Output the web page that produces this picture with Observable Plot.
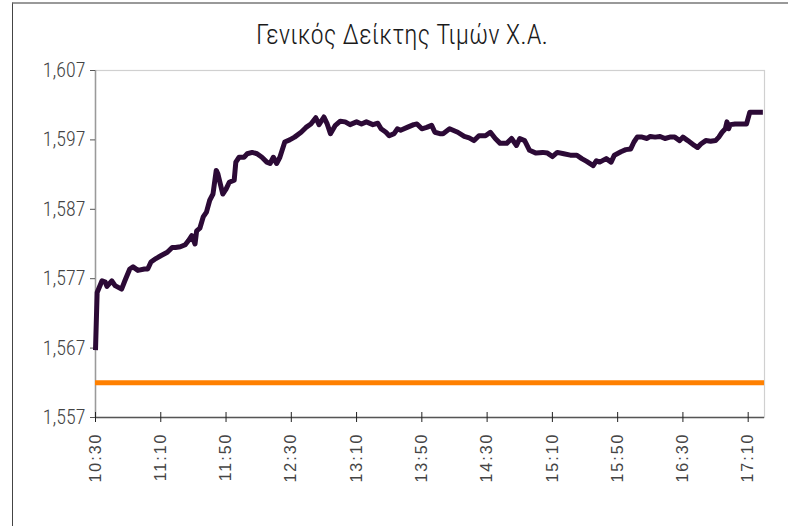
<!DOCTYPE html>
<html>
<head>
<meta charset="utf-8">
<script src="https://cdn.jsdelivr.net/npm/d3@7"></script>
<script src="https://cdn.jsdelivr.net/npm/@observablehq/plot@0.6"></script>
<style>
  html, body { margin: 0; padding: 0; background: #fff; }
  #wrap { position: relative; width: 788px; height: 526px; overflow: hidden; background: #fff; }
  #border { position: absolute; left: 12px; top: 2px; width: 900px; height: 700px;
            border-left: 1.5px solid #444; border-top: 2px solid #999; }
  #title { position: absolute; left: 0; top: 0; width: 804px; height: 56px; text-align: center;
           font-family: "Liberation Sans Narrow", "Roboto Condensed", "Liberation Sans", sans-serif;
           font-size: 27px; line-height: 70px; color: #1a1a1a; font-weight: 300; }
  #chart { position: absolute; left: 0; top: 56px; }
</style>
</head>
<body>
<div id="wrap">
  <div id="border"></div>
  <div id="title">Γενικός Δείκτης Τιμών Χ.Α.</div>
  <div id="chart"></div>
</div>
<script>
const chartTitle = "Γενικός Δείκτης Τιμών Χ.Α.";

const times = [
  "10:30","10:31","10:34","10:36","10:37","10:40","10:42","10:46","10:48","10:51",
  "10:53","10:56","11:00","11:02","11:04","11:07","11:10","11:14","11:17","11:19",
  "11:22","11:25","11:27","11:29","11:31","11:32","11:34","11:36","11:38","11:40",
  "11:42","11:44","11:45","11:48","11:50","11:52","11:55","11:56","11:58","12:01",
  "12:03","12:06","12:09","12:12","12:15","12:17","12:19","12:21","12:23","12:26",
  "12:29","12:32","12:36","12:39","12:42","12:45","12:47","12:50","12:52","12:54",
  "12:57","13:00","13:03","13:06","13:10","13:13","13:16","13:20","13:23","13:25",
  "13:28","13:30","13:33","13:35","13:37","13:41","13:45","13:47","13:50","13:53",
  "13:56","13:58","14:01","14:03","14:07","14:12","14:16","14:19","14:22","14:25",
  "14:29","14:32","14:35","14:38","14:42","14:45","14:48","14:50","14:53","14:56",
  "15:00","15:04","15:07","15:10","15:13","15:17","15:21","15:25","15:28","15:31",
  "15:35","15:37","15:39","15:43","15:46","15:48","15:52","15:55","15:58","16:00",
  "16:02","16:05","16:08","16:10","16:13","16:16","16:19","16:22","16:25","16:28",
  "16:30","16:33","16:37","16:39","16:41","16:44","16:47","16:50","16:52","16:54",
  "16:56","16:57","16:58","16:59","17:02","17:09","17:11","17:19"
];
const values = [
  1566.7,1575.0,1576.7,1576.5,1575.9,1576.7,1576.0,1575.5,1576.7,1578.4,
  1578.7,1578.2,1578.4,1578.4,1579.4,1579.9,1580.3,1580.8,1581.5,1581.5,
  1581.6,1581.9,1582.5,1583.2,1582.0,1583.9,1584.3,1585.9,1586.6,1588.3,
  1589.2,1592.6,1592.1,1589.2,1589.9,1590.9,1591.2,1593.8,1594.5,1594.5,
  1595.0,1595.2,1595.0,1594.5,1593.8,1593.6,1594.5,1593.6,1594.5,1596.7,
  1597.0,1597.4,1598.1,1598.8,1599.3,1600.2,1599.2,1600.3,1599.3,1597.9,
  1599.1,1599.7,1599.6,1599.2,1599.6,1599.3,1599.6,1599.2,1599.4,1598.6,
  1598.1,1597.6,1597.9,1598.6,1598.4,1598.8,1599.2,1599.3,1598.6,1598.8,
  1599.1,1598.1,1597.9,1597.9,1598.6,1598.1,1597.5,1597.3,1596.9,1597.6,
  1597.6,1598.1,1597.2,1596.5,1596.5,1597.2,1596.2,1597.2,1596.9,1595.5,
  1595.1,1595.2,1595.1,1594.6,1595.2,1595.0,1594.8,1594.8,1594.3,1593.9,
  1593.3,1594.0,1593.8,1594.3,1593.8,1594.8,1595.3,1595.6,1595.7,1596.7,
  1597.4,1597.4,1597.2,1597.5,1597.4,1597.5,1597.2,1597.4,1597.4,1596.9,
  1597.4,1596.9,1596.2,1595.9,1596.4,1596.9,1596.8,1596.9,1597.4,1598.1,
  1598.6,1599.6,1598.6,1599.2,1599.3,1599.3,1601.0,1601.0
];
const referenceLevel = 1562;
const yTicks = [1557, 1567, 1577, 1587, 1597, 1607];
const xTickLabels = ["10:30","11:10","11:50","12:30","13:10","13:50","14:30","15:10","15:50","16:30","17:10"];
const xDomainLabels = ["10:30", "17:20"];

const parse = d3.timeParse("%H:%M");
const data = times.map((t, i) => ({time: parse(t), value: values[i]}));
const xTicks = xTickLabels.map(parse);
const xDomain = xDomainLabels.map(parse);
const yDomain = [yTicks[0], yTicks[yTicks.length - 1]];

const plot = Plot.plot({
  width: 788,
  height: 470,
  marginLeft: 95,
  marginRight: 24,
  marginTop: 14,
  marginBottom: 109,
  style: {background: "transparent", overflow: "visible"},
  x: {type: "time", domain: xDomain},
  y: {domain: yDomain},
  marks: [
    Plot.frame({stroke: "#d0d0d0", strokeWidth: 1.2}),
    Plot.ruleX([xDomain[0]], {stroke: "#9a9a9a", strokeWidth: 1.5}),
    Plot.ruleY([yDomain[0]], {stroke: "#555", strokeWidth: 1.5}),
    Plot.axisY({ticks: yTicks, tickFormat: d3.format(","), tickSize: 5, tickPadding: 5,
      stroke: "#555", fill: "#444", fontSize: 20, fontWeight: 300,
      fontFamily: "'Liberation Sans Narrow', 'Roboto Condensed', 'Liberation Sans', sans-serif",
      label: null}),
    Plot.axisX({ticks: xTicks, tickFormat: d3.timeFormat("%H:%M"), tickSize: 5, tickPadding: 10,
      tickRotate: -90, stroke: "#222", fill: "#444", fontSize: 16, label: null,
      fontFamily: "'Liberation Sans', Arial, sans-serif"}),
    Plot.axisX({ticks: xTicks, tickSize: 5, text: null, dy: -5, stroke: "#222", label: null}),
    Plot.ruleY([referenceLevel], {stroke: "#ff8000", strokeWidth: 5}),
    Plot.line(data, {x: "time", y: "value", stroke: "#2c0a36", strokeWidth: 5,
      strokeLinejoin: "round", strokeLinecap: "butt"})
  ]
});
plot.querySelectorAll("text").forEach(t => { if (t.closest("[aria-label='x-axis tick label']")) t.style.letterSpacing = "2px"; });
document.getElementById("chart").appendChild(plot);
</script>
</body>
</html>
